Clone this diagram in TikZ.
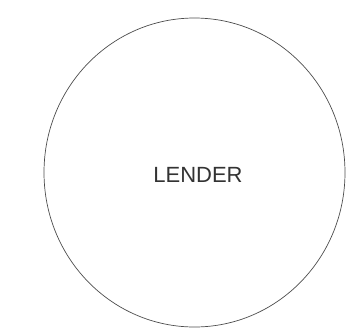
\documentclass[tikz,border=0pt]{standalone}
\usepackage{fontspec}
\setmainfont{Liberation Sans}
\begin{document}
\begin{tikzpicture}[x=1pt,y=-1pt,
  ring/.style={draw=black!70, line width=0.7pt},
  lbl/.style={font=\fontsize{22}{24}\selectfont, text=black!80, inner sep=0pt}]
\useasboundingbox (0,0) rectangle (346,333);
\draw[ring] (194.5,172.5) ellipse [x radius=150.5, y radius=154.5];
\node[lbl] (lender) at (198,175) {LENDER};
\end{tikzpicture}
\end{document}
